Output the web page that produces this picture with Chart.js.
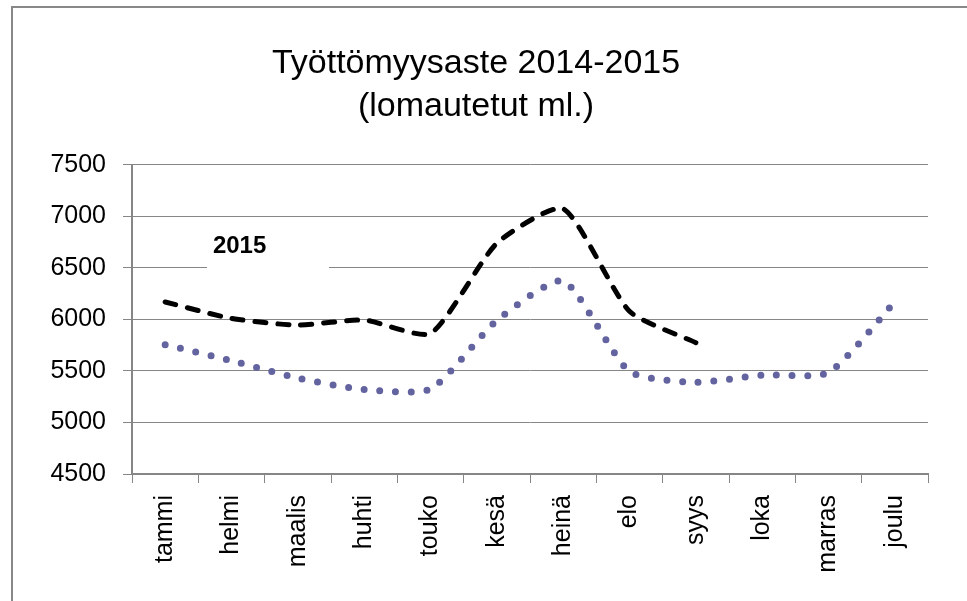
<!DOCTYPE html>
<html>
<head>
<meta charset="utf-8">
<script src="https://cdn.jsdelivr.net/npm/chart.js@4"></script>
<style>
  body { margin: 0; background: #fff; }
  #wrap { position: relative; width: 967px; height: 601px; }
  #frame { position: absolute; left: 11px; top: 6px; right: 0; bottom: 0;
           border-left: 2px solid #888; border-top: 2px solid #888; pointer-events: none; }
</style>
</head>
<body>
<div id="wrap">
  <canvas id="lineChart1" width="967" height="601"></canvas>
  <div id="frame"></div>
</div>
<script>
var months = ['tammi', 'helmi', 'maalis', 'huhti', 'touko', 'kesä', 'heinä', 'elo', 'syys', 'loka', 'marras', 'joulu'];
var values2014 = [5755, 5600, 5430, 5320, 5325, 5990, 6375, 5495, 5390, 5460, 5485, 6170];
var values2015 = [6170, 6010, 5945, 5995, 5865, 6740, 7075, 6080, 5775];
var yTicks = [4500, 5000, 5500, 6000, 6500, 7000, 7500];
var titleLines = ['Työttömyysaste 2014-2015', '(lomautetut ml.)'];
var seriesLabel = '2015';

var gridGray = '#868686';
var tickFont = { family: '"Liberation Sans", Arial, sans-serif', size: 25 };

// text label for the 2015 series, with a white box behind it
var seriesLabelPlugin = {
    id: 'seriesLabel',
    beforeDatasetsDraw: function (chart) {
        var x = chart.scales.x, y = chart.scales.y, c = chart.ctx;
        var left = x.getPixelForValue(0.63), right = x.getPixelForValue(2.47);
        var top = y.getPixelForValue(6890), bottom = y.getPixelForValue(6470);
        c.save();
        c.fillStyle = '#fff';
        c.fillRect(left, top, right - left, bottom - top);
        c.fillStyle = '#000';
        c.font = 'bold 24px "Liberation Sans", Arial, sans-serif';
        c.textBaseline = 'middle';
        c.fillText(seriesLabel, x.getPixelForValue(0.72), y.getPixelForValue(6710));
        c.restore();
    }
};

var ctx = document.getElementById('lineChart1').getContext('2d');
var myChart = new Chart(ctx, {
    type: 'line',
    data: {
        labels: months,
        datasets: [{
            label: '2014',
            data: values2014,
            borderColor: '#63649f',
            borderWidth: 7,
            borderDash: [0, 15.7],
            borderCapStyle: 'round',
            tension: 0.2,
            pointRadius: 0,
            fill: false
        }, {
            label: '2015',
            data: values2015,
            borderColor: '#000',
            borderWidth: 5,
            borderDash: [11, 12],
            borderCapStyle: 'round',
            tension: 0.2,
            pointRadius: 0,
            fill: false
        }]
    },
    options: {
        responsive: false,
        animation: false,
        layout: { padding: { left: 24, right: 39, top: 0, bottom: 0 } },
        scales: {
            x: {
                offset: true,
                grid: { offset: true, drawOnChartArea: false, color: gridGray, tickLength: 9 },
                border: { color: gridGray, width: 2 },
                ticks: { color: '#000', font: tickFont, minRotation: 90, maxRotation: 90, padding: 12 },
                afterFit: function (s) { s.height = 127; }
            },
            y: {
                min: 4500,
                max: 7500,
                afterBuildTicks: function (s) { s.ticks = yTicks.map(function (v) { return { value: v }; }); },
                grid: { color: gridGray, tickLength: 9 },
                border: { color: gridGray, width: 2 },
                ticks: { color: '#000', font: tickFont, padding: 17, callback: function (v) { return String(v); } },
                afterFit: function (s) { s.width = 108; }
            }
        },
        plugins: {
            legend: { display: false },
            tooltip: { enabled: false },
            title: {
                display: true,
                text: titleLines,
                color: '#000',
                font: { family: '"Liberation Sans", Arial, sans-serif', size: 34, weight: 'normal', lineHeight: 1.27 },
                padding: { top: 42, bottom: 36.6 }
            }
        }
    },
    plugins: [seriesLabelPlugin]
});
</script>
</body>
</html>
